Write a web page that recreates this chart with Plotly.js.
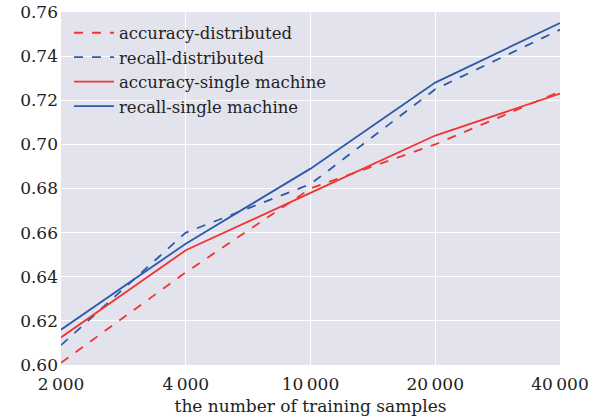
<!DOCTYPE html>
<html><head><meta charset="utf-8">
<script src="https://cdn.plot.ly/plotly-3.0.1.min.js"></script>
<style>html,body{margin:0;padding:0;background:#fff}#chart{width:612px;height:420px}</style>
</head><body><div id="chart"></div>
<script>
var categories = ["2\u2009000", "4\u2009000", "10\u2009000", "20\u2009000", "40\u2009000"];
var accuracyDistributed = [0.601, 0.642, 0.680, 0.700, 0.724];
var recallDistributed = [0.609, 0.660, 0.682, 0.725, 0.752];
var accuracySingle = [0.6125, 0.652, 0.678, 0.704, 0.723];
var recallSingle = [0.616, 0.655, 0.689, 0.728, 0.755];
var yTicks = [0.60, 0.62, 0.64, 0.66, 0.68, 0.70, 0.72, 0.74, 0.76];

var red = "#f03434", blue = "#2c5aa8";
function tr(name, y, color, dash) {
  return {x: categories, y: y, name: name, type: "scatter", mode: "lines",
    line: {color: color, width: 1.8, dash: dash}};
}
var data = [
  tr("accuracy-distributed", accuracyDistributed, red, "dash"),
  tr("recall-distributed", recallDistributed, blue, "dash"),
  tr("accuracy-single machine", accuracySingle, red, "solid"),
  tr("recall-single machine", recallSingle, blue, "solid")
];
var font = "DejaVu Serif, Liberation Serif, serif";
var layout = {
  width: 612, height: 420,
  margin: {l: 61, r: 52, t: 12, b: 55},
  paper_bgcolor: "#ffffff", plot_bgcolor: "#e3e3ee",
  font: {family: font, color: "#222", size: 16},
  showlegend: true,
  legend: {x: 0.016, y: 0.99, xanchor: "left", yanchor: "top", bgcolor: "rgba(0,0,0,0)",
    font: {family: font, size: 16.5, color: "#222"}, tracegroupgap: 0, itemwidth: 40},
  xaxis: {type: "category", range: [0, 4], showgrid: true, gridcolor: "#ffffff", gridwidth: 1.2,
    zeroline: false, showline: false, ticks: "", ticklabelstandoff: 7, tickfont: {family: font, size: 17},
    title: {text: "the number of training samples", font: {family: font, size: 17}, standoff: 7}},
  yaxis: {range: [0.60, 0.76], tickvals: yTicks, tickformat: ".2f", showgrid: true,
    gridcolor: "#ffffff", gridwidth: 1.2, zeroline: false, showline: false, ticks: "",
    ticklabelstandoff: 2, tickfont: {family: font, size: 17}}
};
Plotly.newPlot("chart", data, layout, {displayModeBar: false, staticPlot: true});
</script></body></html>
